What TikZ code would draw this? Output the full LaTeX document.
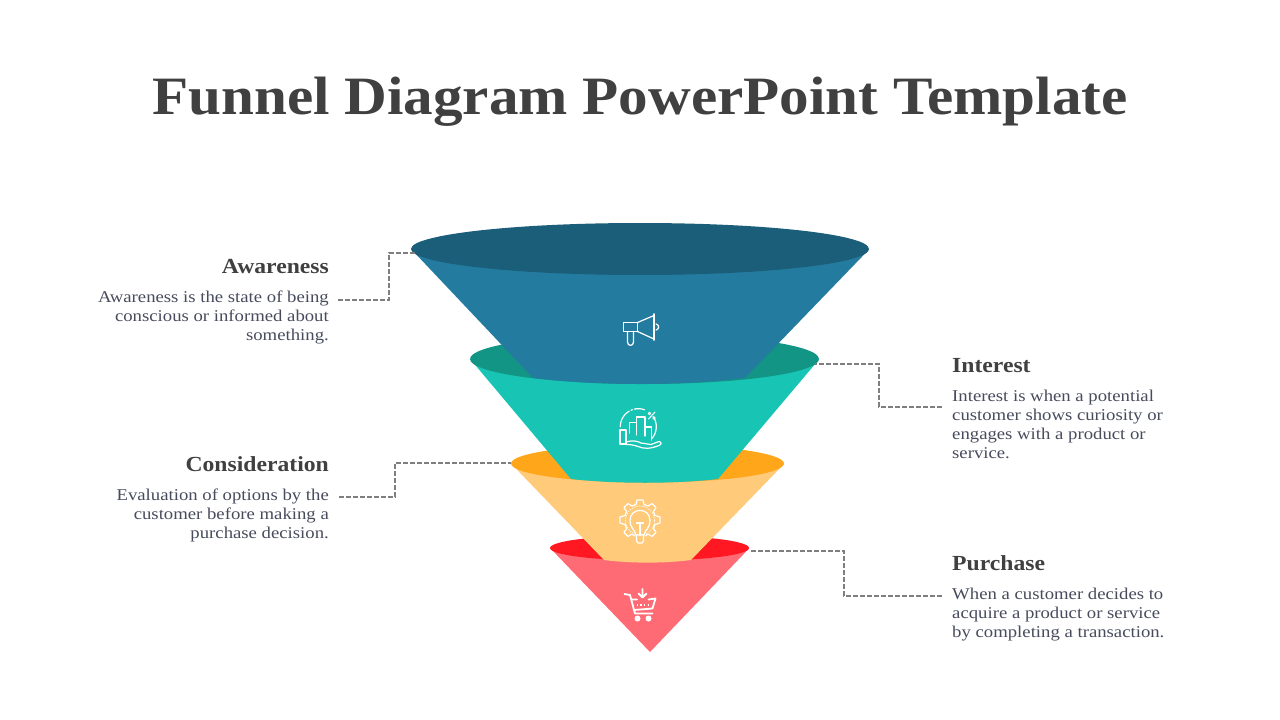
\documentclass[tikz,border=0pt]{standalone}
\usepackage{fontspec}
\setmainfont{Liberation Serif}
\newfontfamily\titlefont[FakeStretch=1.095]{Liberation Serif}
\newfontfamily\headfont[FakeStretch=1.1]{Liberation Serif}
\newfontfamily\bodyfont[FakeStretch=1.135]{Liberation Serif}
\definecolor{ctitle}{HTML}{404040}
\definecolor{cbody}{HTML}{474B5C}
\definecolor{cdash}{HTML}{7F7F7F}
\definecolor{bluef}{HTML}{237CA0}
\definecolor{blued}{HTML}{1B5E79}
\definecolor{greenf}{HTML}{18C4B3}
\definecolor{greend}{HTML}{129584}
\definecolor{orangef}{HTML}{FFCA79}
\definecolor{oranged}{HTML}{FFA61B}
\definecolor{redf}{HTML}{FF6B75}
\definecolor{redd}{HTML}{FF1721}
\tikzset{
  x=1pt,y=-1pt,
  titletext/.style={inner sep=0pt,anchor=base,text=ctitle,font=\titlefont\bfseries\fontsize{54}{60}\selectfont},
  headtext/.style={inner sep=0pt,text=ctitle,font=\headfont\bfseries\fontsize{21.5}{24}\selectfont},
  bodytext/.style={inner sep=0pt,text=cbody,font=\bodyfont\fontsize{16.5}{19}\selectfont},
  leftblock/.style={anchor=north east,align=right},
  rightblock/.style={anchor=north west,align=left},
  leader/.style={draw=cdash,line width=1.8pt,dash pattern=on 5pt off 2pt},
  icon/.style={draw=white,line width=1.2pt,line join=round,line cap=round,fill=none},
  iconb/.style={draw=white,line width=1.8pt,line join=round,line cap=round,fill=none},
}
\begin{document}
\begin{tikzpicture}
\useasboundingbox (0,0) rectangle (1280,720);
% red
\fill[redf] (551,549) -- (650,652) -- (748.5,549) -- cycle;
\fill[redd] (649.5,548) ellipse [x radius=99.5,y radius=12.5];
% orange
\fill[orangef] (512,464.5) -- (604,560) .. controls (630,563.5) and (665,563.5) .. (691,560) -- (783.5,464.5) -- cycle;
\fill[oranged] (647.5,463.5) ellipse [x radius=136.5,y radius=19];
% green
\fill[greenf] (471,360) -- (571,479) .. controls (615,484) and (675,484) .. (718,479) -- (818.5,360) -- cycle;
\fill[greend] (644.5,359) ellipse [x radius=174.5,y radius=25];
% blue
\fill[bluef] (412,250) -- (533,378) .. controls (600,386) and (680,386) .. (745,378) -- (868.5,250) -- cycle;
\fill[blued] (640,249) ellipse [x radius=229,y radius=26];

% megaphone
\draw[icon] (623.5,322.5) rectangle (637.5,331.5);
\draw[icon] (637.5,322.5) -- (654,315.5) (654,339) -- (637.5,331.5);
\draw[iconb] (654,314) -- (654,340);
\draw[icon] (627.5,331.5) -- (627.5,342) .. controls (627.5,346.5) and (633.5,346.5) .. (633.5,342) -- (633.5,331.5);
\draw[icon] (656,324) .. controls (659.5,324.5) and (659.5,329.5) .. (656,330);
% chart and hand
\draw[icon] plot[domain=-180:-125,samples=12] ({638.3+18*cos(\x)},{426.7+18*sin(\x)});
\draw[icon,dash pattern=on 1.5pt off 2pt] plot[domain=-125:-100,samples=8] ({638.3+18*cos(\x)},{426.7+18*sin(\x)});
\draw[icon] plot[domain=-100:-70,samples=8] ({638.3+18*cos(\x)},{426.7+18*sin(\x)});
\draw[icon] plot[domain=-35:40,samples=14] ({638.3+18*cos(\x)},{426.7+18*sin(\x)});
\draw[icon] (620,430) rectangle (626,444);
\draw[icon] (629.5,433) -- (629.5,422.5) -- (636.5,422.5);
\draw[icon] (636.5,435) -- (636.5,417) -- (645,417) -- (645,436);
\draw[icon] (645,427) -- (651.5,427) -- (651.5,440);
\draw[icon] (626,442) .. controls (633,440) and (637,441) .. (641,443) -- (651,444.5) -- (659,441.5)
  .. controls (662,442) and (661.5,444.5) .. (659,445.5) .. controls (650,449) and (644,449) .. (638,446.5) .. controls (634,445) and (630,444.5) .. (626,444.5);
\draw[icon,line width=1pt] (648.5,419) -- (655,412);
\draw[icon,line width=.9pt] (649.5,413.5) circle[radius=1.3] (654,418) circle[radius=1.3];
% gear and bulb
\draw[icon] (640,500) -- (643,500) -- (644,504.5) -- (648,506) -- (652,503.5) -- (656,507.5) -- (653.5,511.5) -- (655,515.5) -- (660,517) -- (660,523) -- (655,524.5) -- (653.5,528.5) -- (656,532.5) -- (652,536.5) -- (648,534) -- (645.5,536) (634.5,536) -- (632,534) -- (628,536.5) -- (624,532.5) -- (626.5,528.5) -- (625,524.5) -- (620,523) -- (620,517) -- (625,515.5) -- (626.5,511.5) -- (624,507.5) -- (628,503.5) -- (632,506) -- (636,504.5) -- (637,500) -- (640,500);
\draw[icon,line width=.7pt,dash pattern=on 1pt off 1.5pt] (640,520.5) circle[radius=14.5];
\draw[icon] (636,535) .. controls (635,530) and (630,528) .. (630,520.5) .. controls (630,507) and (650,507) .. (650,520.5) .. controls (650,528) and (645,530) .. (644,535) -- cycle;
\draw[icon] (636.5,535) -- (636.5,541) -- (638,543) -- (642,543) -- (643.5,541) -- (643.5,535);
\draw[icon] (640,535) -- (640,523) (636.5,523) -- (643.5,523);
% cart
\draw[iconb] (624.5,594) -- (630,595) -- (635,613.5) -- (652.5,613.5);
\draw[iconb] (631.5,599.5) -- (637,599.5) (648.5,599.5) -- (655.5,598.5) -- (652.5,608.5) -- (634,610);
\fill[white] (637.5,618.5) circle[radius=3] (648.5,618.5) circle[radius=3];
\draw[iconb] (642.5,589) -- (642.5,597) (638.5,593.5) -- (642.5,597.5) -- (646.5,593.5);
\draw[iconb,line width=1.4pt,dash pattern=on 1.5pt off 2.2pt,line cap=butt] (636.5,605) -- (649,605);

% text
\node[titletext] (title) at (640,114) {Funnel Diagram PowerPoint Template};

\node[headtext,anchor=base east] (h1) at (329,273) {Awareness};
\node[bodytext,leftblock] (b1) at (329,291) {Awareness is the state of being\\conscious or informed about\\something.};
\node[headtext,anchor=base west] (h2) at (952,372) {Interest};
\node[bodytext,rightblock] (b2) at (952,390) {Interest is when a potential\\customer shows curiosity or\\engages with a product or\\service.};
\node[headtext,anchor=base east] (h3) at (329,471) {Consideration};
\node[bodytext,leftblock] (b3) at (329,489) {Evaluation of options by the\\customer before making a\\purchase decision.};
\node[headtext,anchor=base west] (h4) at (952,570) {Purchase};
\node[bodytext,rightblock] (b4) at (952,588) {When a customer decides to\\acquire a product or service\\by completing a transaction.};

% connectors
\coordinate (a1) at (338,300); \coordinate (e1) at (415,253); \coordinate (m1) at (389,280);
\coordinate (a2) at (942,407); \coordinate (e2) at (815,364); \coordinate (m2) at (879,380);
\coordinate (a3) at (339,497); \coordinate (e3) at (511,463); \coordinate (m3) at (395,480);
\coordinate (a4) at (942,596); \coordinate (e4) at (749,551); \coordinate (m4) at (844,570);
\draw[leader] (a1) -- (a1 -| m1) -- (e1 -| m1) -- (e1);
\draw[leader] (a2) -- (a2 -| m2) -- (e2 -| m2) -- (e2);
\draw[leader] (a3) -- (a3 -| m3) -- (e3 -| m3) -- (e3);
\draw[leader] (a4) -- (a4 -| m4) -- (e4 -| m4) -- (e4);
\end{tikzpicture}
\end{document}
